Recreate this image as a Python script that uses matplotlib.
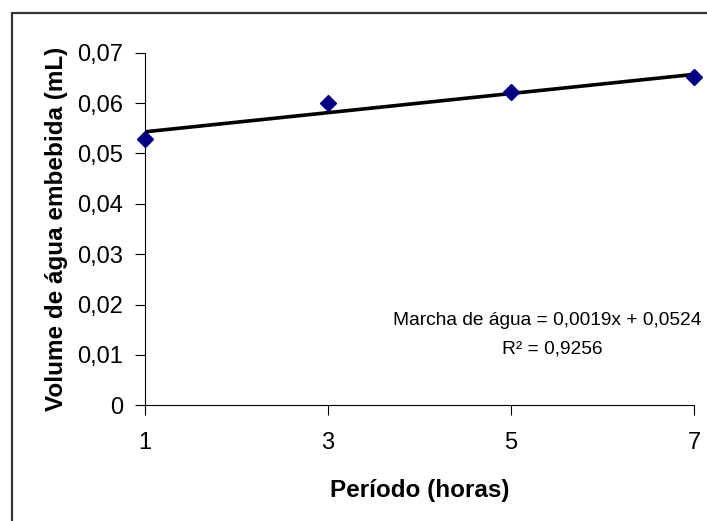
import numpy as np
import matplotlib
matplotlib.use("Agg")
import matplotlib.pyplot as plt
from matplotlib.patches import Rectangle

plt.rcParams['font.family'] = ['Liberation Sans', 'DejaVu Sans']

# Dados
horas = [1, 3, 5, 7]
volume = [0.0529, 0.0600, 0.0622, 0.0652]
ticks_x = [1, 3, 5, 7]
ticks_y = [0, 0.01, 0.02, 0.03, 0.04, 0.05, 0.06, 0.07]
rotulos_y = ["0", "0,01", "0,02", "0,03", "0,04", "0,05", "0,06", "0,07"]
coef_a = 0.0019
coef_b = 0.0524
r2 = 0.9256

fig = plt.figure(figsize=(7.07, 5.21), dpi=100)
ax = fig.add_axes([0.2051, 0.2221, 0.7765, 0.6767])

# borda do gráfico (Excel)
fig.patches.append(Rectangle((12 / 707, -0.1), 1.2, 1 - 13 / 521 + 0.1,
                             transform=fig.transFigure, fill=False,
                             edgecolor="#333333", linewidth=1.6))

# linha de tendência
xt = np.array([horas[0], horas[-1]])
ax.plot(xt, coef_a * xt + coef_b, color="black", linewidth=2.6, zorder=2)
ax.plot(horas, volume, linestyle="none", marker="D", markersize=8,
        color="#000080", zorder=3, clip_on=False)

ax.set_xlim(1, 7)
ax.set_ylim(0, 0.07)
ax.set_xticks(ticks_x)
ax.set_xticklabels([str(t) for t in ticks_x])
ax.set_yticks(ticks_y)
ax.set_yticklabels(rotulos_y)
ax.tick_params(axis="both", labelsize=17, length=7, width=0.8, color="black")
ax.tick_params(axis="y", pad=9)
ax.tick_params(axis="x", pad=12)
for s in ["top", "right"]:
    ax.spines[s].set_visible(False)
for s in ["left", "bottom"]:
    ax.spines[s].set_linewidth(0.8)

ax.set_xlabel("Período (horas)", fontsize=17.5, fontweight="bold", labelpad=18)
ax.set_ylabel("Volume de água embebida (mL)", fontsize=17.5, fontweight="bold", labelpad=6)

eq = "Marcha de água = {:.4f}x + {:.4f}".format(coef_a, coef_b).replace(".", ",")
ax.text(5.40, 0.0169, eq, fontsize=13.8, ha="center", va="center")
ax.text(5.45, 0.0112, "R² = " + "{:.4f}".format(r2).replace(".", ","),
        fontsize=13.8, ha="center", va="center")

fig.savefig("out.png", dpi=100)
